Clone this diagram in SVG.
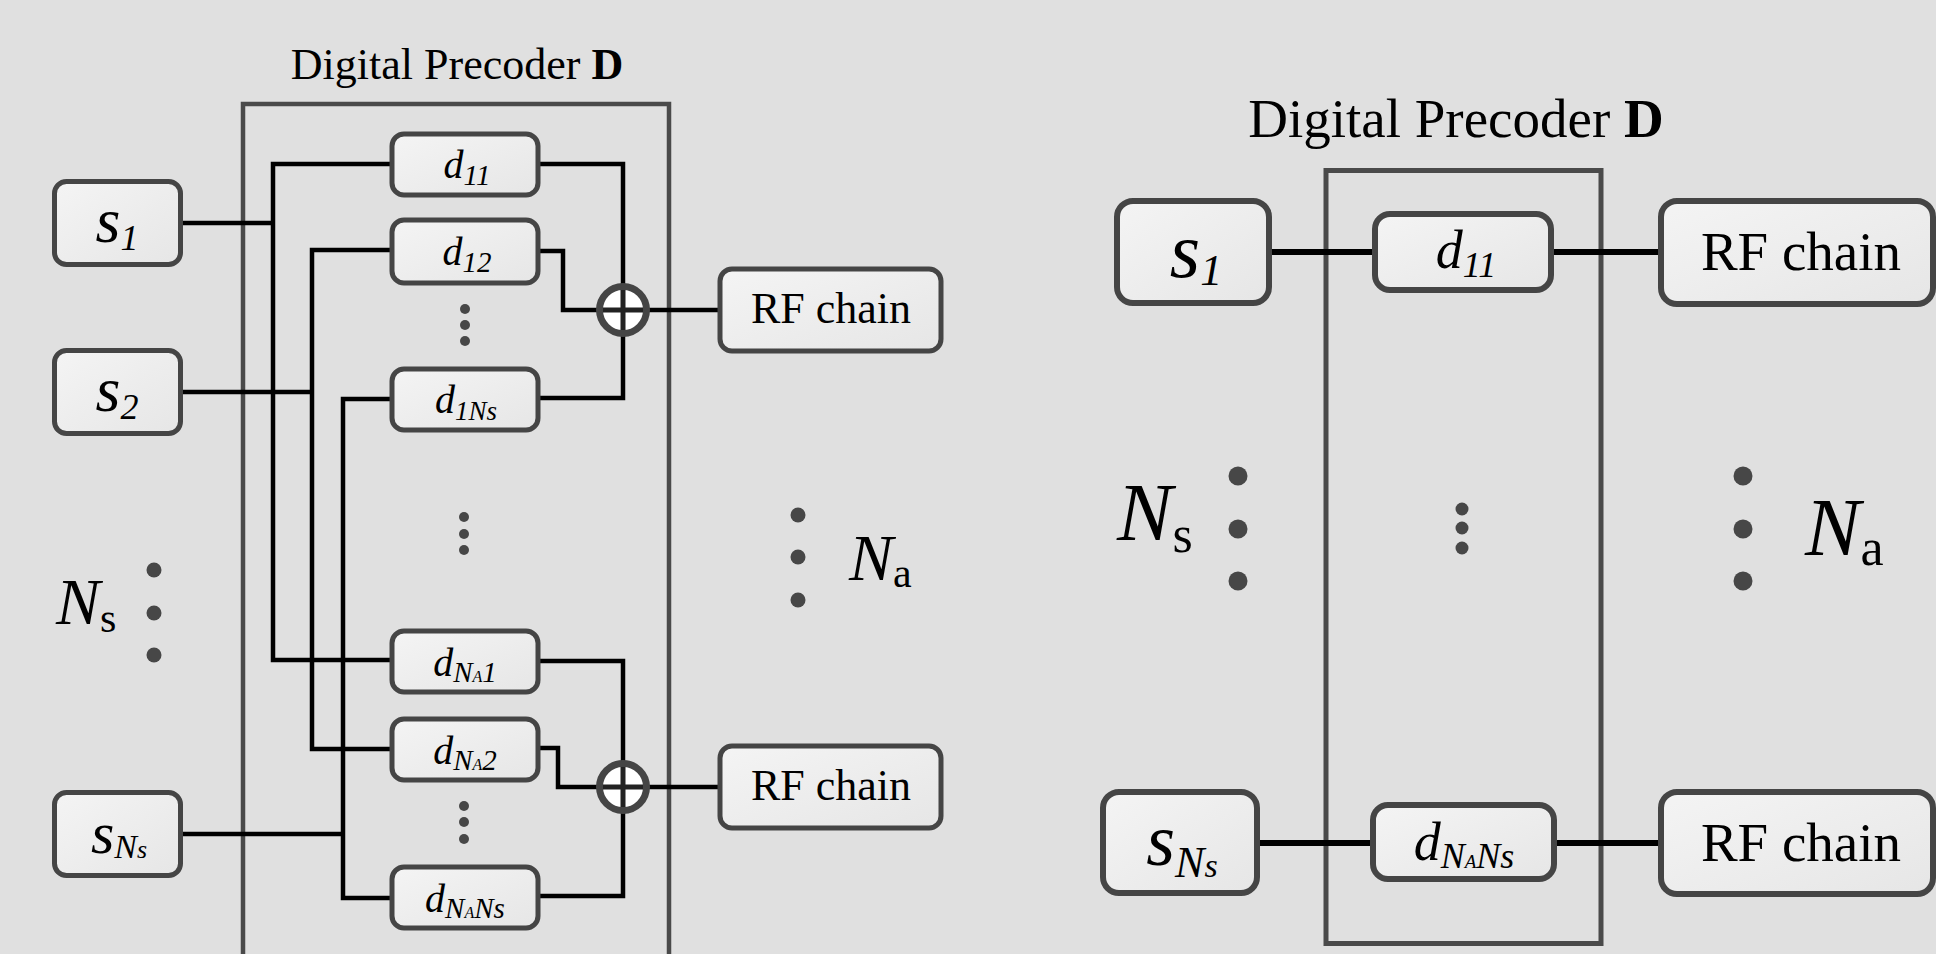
<svg xmlns="http://www.w3.org/2000/svg" width="1936" height="954" viewBox="0 0 1936 954">
<defs>
<linearGradient id="bf" x1="0" y1="0" x2="1" y2="1">
<stop offset="0" stop-color="#f4f4f4"/>
<stop offset="1" stop-color="#e6e6e6"/>
</linearGradient>
<style>
.box{fill:url(#bf);stroke:#454545;stroke-width:5}
.boxR{fill:url(#bf);stroke:#454545;stroke-width:6}
.frame{fill:none;stroke:#4a4a4a;stroke-width:4.5}
.frameR{fill:none;stroke:#4a4a4a;stroke-width:5}
.ln{fill:none;stroke:#000;stroke-width:4.5;stroke-linejoin:miter}
.lnR{fill:none;stroke:#000;stroke-width:6}
.sum{fill:#fff;stroke:#454545;stroke-width:7}
.cross{stroke:#222;stroke-width:5}
.dot{fill:#474747}
.t{font-family:"Liberation Serif","Times New Roman",serif;fill:#000}
.i{font-style:italic}
</style>
</defs>
<rect width="1936" height="954" fill="#e0e0e0"/>

<!-- LEFT DIAGRAM -->
<g id="left-title"><text class="t" x="457" y="79" font-size="44" text-anchor="middle">Digital Precoder <tspan font-weight="bold">D</tspan></text></g>
<g id="left-frame"><rect class="frame" x="243" y="104" width="426" height="870"/></g>

<g id="left-connectors">
<path class="ln" d="M181 223 H273 M390 164 H273 V660 H390"/>
<path class="ln" d="M181 392 H312 M390 250 H312 V749 H390"/>
<path class="ln" d="M181 834 H343 M390 399 H343 V898 H390"/>
<path class="ln" d="M538 164 H623 V287"/>
<path class="ln" d="M538 251 H563 V310 H600"/>
<path class="ln" d="M538 398 H623 V333"/>
<path class="ln" d="M646 310 H720"/>
<path class="ln" d="M538 661 H623 V764"/>
<path class="ln" d="M538 748 H558 V787 H600"/>
<path class="ln" d="M538 896 H623 V810"/>
<path class="ln" d="M646 787 H720"/>
</g>

<g id="L-s1"><rect class="box" x="54.5" y="181.5" width="126" height="83" rx="12"/><text class="t i" x="117" y="242" font-size="64" text-anchor="middle">s<tspan font-size="36" dy="8">1</tspan></text></g>
<g id="L-s2"><rect class="box" x="54.5" y="350.5" width="126" height="83" rx="12"/><text class="t i" x="117" y="411" font-size="64" text-anchor="middle">s<tspan font-size="36" dy="8">2</tspan></text></g>
<g id="L-sNs"><rect class="box" x="54.5" y="792.5" width="126" height="83" rx="12"/><text class="t i" x="119" y="853" font-size="60" text-anchor="middle">s<tspan font-size="34" dy="5">N</tspan><tspan font-size="26">s</tspan></text></g>

<g id="L-d11"><rect class="box" x="392" y="134" width="146" height="61" rx="12"/><text class="t i" x="467" y="178" font-size="40" text-anchor="middle">d<tspan font-size="29" dy="7">11</tspan></text></g>
<g id="L-d12"><rect class="box" x="392" y="220" width="146" height="63" rx="12"/><text class="t i" x="467" y="265" font-size="40" text-anchor="middle">d<tspan font-size="29" dy="7">12</tspan></text></g>
<g id="L-d1Ns"><rect class="box" x="392" y="369" width="146" height="61" rx="12"/><text class="t i" x="466" y="413" font-size="40" text-anchor="middle">d<tspan font-size="27" dy="7">1Ns</tspan></text></g>
<g id="L-dNA1"><rect class="box" x="392" y="631" width="146" height="61" rx="12"/><text class="t i" x="465" y="676" font-size="40" text-anchor="middle">d<tspan font-size="29" dy="6">N</tspan><tspan font-size="16">A</tspan><tspan font-size="29">1</tspan></text></g>
<g id="L-dNA2"><rect class="box" x="392" y="719" width="146" height="61" rx="12"/><text class="t i" x="465" y="764" font-size="40" text-anchor="middle">d<tspan font-size="29" dy="6">N</tspan><tspan font-size="16">A</tspan><tspan font-size="29">2</tspan></text></g>
<g id="L-dNANs"><rect class="box" x="392" y="867" width="146" height="61" rx="12"/><text class="t i" x="465" y="912" font-size="40" text-anchor="middle">d<tspan font-size="29" dy="6">N</tspan><tspan font-size="16">A</tspan><tspan font-size="29">Ns</tspan></text></g>

<g id="L-sum1"><circle class="sum" cx="623" cy="310" r="23.5"/><path class="cross" d="M603 310 H643 M623 290 V330"/></g>
<g id="L-sum2"><circle class="sum" cx="623" cy="787" r="23.5"/><path class="cross" d="M603 787 H643 M623 767 V807"/></g>

<g id="L-rf1"><rect class="box" x="720" y="269" width="221" height="82" rx="12"/><text class="t" x="831" y="323" font-size="44" text-anchor="middle">RF chain</text></g>
<g id="L-rf2"><rect class="box" x="720" y="746" width="221" height="82" rx="12"/><text class="t" x="831" y="800" font-size="44" text-anchor="middle">RF chain</text></g>

<g id="L-dots">
<circle class="dot" cx="465" cy="309" r="5"/><circle class="dot" cx="465" cy="325" r="5"/><circle class="dot" cx="465" cy="341" r="5"/>
<circle class="dot" cx="464" cy="517" r="5"/><circle class="dot" cx="464" cy="534" r="5"/><circle class="dot" cx="464" cy="550" r="5"/>
<circle class="dot" cx="464" cy="806" r="5"/><circle class="dot" cx="464" cy="822" r="5"/><circle class="dot" cx="464" cy="839" r="5"/>
<circle class="dot" cx="154" cy="570" r="7.5"/><circle class="dot" cx="154" cy="613" r="7.5"/><circle class="dot" cx="154" cy="655" r="7.5"/>
<circle class="dot" cx="798" cy="515" r="7.5"/><circle class="dot" cx="798" cy="557" r="7.5"/><circle class="dot" cx="798" cy="600" r="7.5"/>
</g>
<g id="L-Ns"><text class="t" x="56" y="624" font-size="66"><tspan class="i">N</tspan><tspan font-size="42" dy="8">s</tspan></text></g>
<g id="L-Na"><text class="t" x="849" y="580" font-size="66"><tspan class="i">N</tspan><tspan font-size="42" dy="7">a</tspan></text></g>

<!-- RIGHT DIAGRAM -->
<g id="right-title"><text class="t" x="1456" y="137" font-size="55" text-anchor="middle">Digital Precoder <tspan font-weight="bold">D</tspan></text></g>
<g id="right-frame"><rect class="frameR" x="1326" y="170.5" width="275" height="773"/></g>

<g id="right-connectors">
<path class="lnR" d="M1269 252 H1375 M1551 252 H1661"/>
<path class="lnR" d="M1257 843 H1373 M1554 843 H1661"/>
</g>

<g id="R-s1"><rect class="boxR" x="1117" y="201" width="152" height="102" rx="16"/><text class="t i" x="1196" y="277" font-size="78" text-anchor="middle">s<tspan font-size="44" dy="8">1</tspan></text></g>
<g id="R-sNs"><rect class="boxR" x="1103" y="792" width="154" height="101" rx="16"/><text class="t i" x="1182" y="865" font-size="74" text-anchor="middle">s<tspan font-size="44" dy="12">N</tspan><tspan font-size="34">s</tspan></text></g>
<g id="R-d11"><rect class="boxR" x="1375" y="214" width="176" height="76" rx="15"/><text class="t i" x="1466" y="268" font-size="54" text-anchor="middle">d<tspan font-size="36" dy="9">11</tspan></text></g>
<g id="R-dNANs"><rect class="boxR" x="1373" y="805" width="181" height="74" rx="15"/><text class="t i" x="1464" y="860" font-size="54" text-anchor="middle">d<tspan font-size="36" dy="8">N</tspan><tspan font-size="19">A</tspan><tspan font-size="36">Ns</tspan></text></g>
<g id="R-rf1"><rect class="boxR" x="1661" y="201" width="272" height="103" rx="16"/><text class="t" x="1801" y="270" font-size="55" text-anchor="middle">RF chain</text></g>
<g id="R-rf2"><rect class="boxR" x="1661" y="792" width="272" height="102" rx="16"/><text class="t" x="1801" y="861" font-size="55" text-anchor="middle">RF chain</text></g>

<g id="R-dots">
<circle class="dot" cx="1238" cy="476" r="9.5"/><circle class="dot" cx="1238" cy="529" r="9.5"/><circle class="dot" cx="1238" cy="581" r="9.5"/>
<circle class="dot" cx="1462" cy="509" r="6.5"/><circle class="dot" cx="1462" cy="528" r="6.5"/><circle class="dot" cx="1462" cy="548" r="6.5"/>
<circle class="dot" cx="1743" cy="476" r="9.5"/><circle class="dot" cx="1743" cy="529" r="9.5"/><circle class="dot" cx="1743" cy="581" r="9.5"/>
</g>
<g id="R-Ns"><text class="t" x="1117" y="540" font-size="83"><tspan class="i">N</tspan><tspan font-size="52" dy="12">s</tspan></text></g>
<g id="R-Na"><text class="t" x="1805" y="555" font-size="83"><tspan class="i">N</tspan><tspan font-size="52" dy="10">a</tspan></text></g>
</svg>
